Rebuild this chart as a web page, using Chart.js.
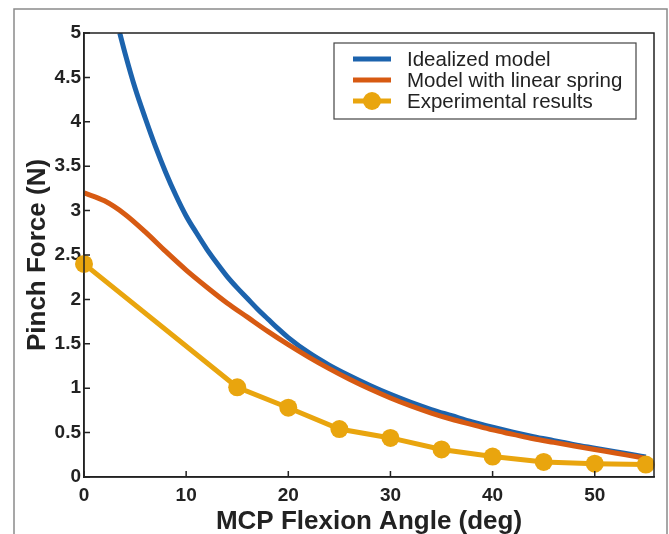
<!DOCTYPE html>
<html lang="en">
<head>
  <meta charset="UTF-8" />
  <title>Pinch Force vs MCP Flexion Angle</title>
  <script src="https://cdn.jsdelivr.net/npm/chart.js"></script>
  <style>
    html, body { margin: 0; padding: 0; background: #fff; }
    #wrap { position: relative; width: 669px; height: 534px; overflow: hidden; }
  </style>
</head>
<body>
<div id="wrap">
  <canvas id="forceChart" width="669" height="534"></canvas>
</div>

<script>
  // values
  const idealAngles = [3.5, 4, 5, 6, 7, 8, 9, 10, 11, 12, 13, 14, 15, 16, 17, 18, 19, 20, 22, 24, 26, 28, 30, 32, 34, 36, 38, 40, 42, 44, 46, 48, 50, 52, 54, 55];
  const idealForce  = [5.0, 4.78, 4.38, 4.04, 3.72, 3.43, 3.17, 2.94, 2.75, 2.57, 2.41, 2.26, 2.13, 2.01, 1.89, 1.78, 1.67, 1.57, 1.4, 1.26, 1.14, 1.03, 0.93, 0.84, 0.76, 0.69, 0.62, 0.56, 0.505, 0.455, 0.41, 0.365, 0.325, 0.285, 0.245, 0.225];

  const springAngles = [0, 2, 4, 6, 8, 10, 12, 14, 16, 18, 20, 22, 24, 26, 28, 30, 32, 34, 36, 38, 40, 42, 44, 46, 48, 50, 52, 54, 55];
  const springForce  = [3.2, 3.11, 2.96, 2.76, 2.54, 2.33, 2.14, 1.96, 1.8, 1.64, 1.49, 1.35, 1.22, 1.1, 0.99, 0.89, 0.8, 0.72, 0.65, 0.59, 0.53, 0.48, 0.43, 0.39, 0.35, 0.31, 0.27, 0.23, 0.21];

  const expAngles = [0, 15, 20, 25, 30, 35, 40, 45, 50, 55];
  const expForce  = [2.4, 1.01, 0.78, 0.54, 0.44, 0.31, 0.23, 0.17, 0.15, 0.14];

  const seriesNames = ["Idealized model", "Model with linear spring", "Experimental results"];
  const xTicks = [0, 10, 20, 30, 40, 50];
  const yTicks = [0, 0.5, 1, 1.5, 2, 2.5, 3, 3.5, 4, 4.5, 5];
  const yTickLabels = ["0", "0.5", "1", "1.5", "2", "2.5", "3", "3.5", "4", "4.5", "5"];

  const BLUE = "#1c63ad";
  const ORANGE = "#d75a12";
  const GOLD = "#e9a50e";
  const INK = "#222222";

  const toPoints = (xs, ys) => xs.map((x, i) => ({ x: x, y: ys[i] }));

  // axes box, inward ticks, legend and figure frame
  const decorPlugin = {
    id: "decor",
    afterDraw(chart) {
      const ctx = chart.ctx;
      const a = chart.chartArea;
      const xs = chart.scales.x, ys = chart.scales.y;
      ctx.save();

      ctx.strokeStyle = INK;
      ctx.lineWidth = 1.5;
      ctx.strokeRect(a.left, a.top, a.right - a.left, a.bottom - a.top);

      ctx.beginPath();
      xTicks.forEach(v => {
        const px = xs.getPixelForValue(v);
        ctx.moveTo(px, a.bottom);
        ctx.lineTo(px, a.bottom - 6);
      });
      yTicks.forEach(v => {
        const py = ys.getPixelForValue(v);
        ctx.moveTo(a.left, py);
        ctx.lineTo(a.left + 6, py);
      });
      ctx.stroke();

      // legend
      const bx = 334, by = 43, bw = 302, bh = 76;
      ctx.fillStyle = "#fff";
      ctx.fillRect(bx, by, bw, bh);
      ctx.strokeStyle = "#444";
      ctx.lineWidth = 1.2;
      ctx.strokeRect(bx, by, bw, bh);
      const colors = [BLUE, ORANGE, GOLD];
      ctx.font = "20.5px 'Liberation Sans', Arial, sans-serif";
      ctx.textBaseline = "middle";
      seriesNames.forEach((name, i) => {
        const ry = 59 + i * 21;
        ctx.strokeStyle = colors[i];
        ctx.lineWidth = 5;
        ctx.beginPath();
        ctx.moveTo(353, ry);
        ctx.lineTo(391, ry);
        ctx.stroke();
        if (i === 2) {
          ctx.fillStyle = GOLD;
          ctx.beginPath();
          ctx.arc(372, ry, 9, 0, Math.PI * 2);
          ctx.fill();
        }
        ctx.fillStyle = INK;
        ctx.fillText(name, 407, ry + 1);
      });

      // outer figure frame
      ctx.strokeStyle = "#8a8a8a";
      ctx.lineWidth = 1.5;
      ctx.strokeRect(14, 9, 653, 560);
      ctx.restore();
    }
  };

  new Chart(document.getElementById("forceChart"), {
    type: "line",
    data: {
      datasets: [
        {
          label: seriesNames[0],
          data: toPoints(idealAngles, idealForce),
          borderColor: BLUE,
          borderWidth: 5,
          pointRadius: 0,
          cubicInterpolationMode: "monotone",
          order: 3
        },
        {
          label: seriesNames[1],
          data: toPoints(springAngles, springForce),
          borderColor: ORANGE,
          borderWidth: 5,
          pointRadius: 0,
          cubicInterpolationMode: "monotone",
          order: 2
        },
        {
          label: seriesNames[2],
          data: toPoints(expAngles, expForce),
          borderColor: GOLD,
          backgroundColor: GOLD,
          borderWidth: 5,
          pointRadius: 9,
          pointBorderWidth: 0,
          pointBackgroundColor: GOLD,
          tension: 0,
          clip: false,
          order: 1
        }
      ]
    },
    options: {
      responsive: false,
      animation: false,
      layout: { padding: { top: 33, right: 15, left: 0, bottom: 0 } },
      plugins: {
        legend: { display: false },
        tooltip: { enabled: false }
      },
      scales: {
        x: {
          type: "linear",
          min: 0,
          max: 55.8,
          afterBuildTicks: (s) => { s.ticks = xTicks.map(v => ({ value: v })); },
          afterFit: (s) => { s.height = 57; },
          grid: { display: false, drawTicks: false },
          border: { display: true, color: INK, width: 1.5 },
          ticks: {
            padding: 7,
            color: INK,
            font: { family: "'Liberation Sans', Arial, sans-serif", size: 19, weight: "bold" },
            maxRotation: 0
          },
          title: {
            display: true,
            text: "MCP Flexion Angle (deg)",
            color: INK,
            padding: { top: 0, bottom: -1 },
            font: { family: "'Liberation Sans', Arial, sans-serif", size: 26, weight: "bold", lineHeight: 1 }
          }
        },
        y: {
          type: "linear",
          min: 0,
          max: 5,
          afterBuildTicks: (s) => { s.ticks = yTicks.map(v => ({ value: v })); },
          afterFit: (s) => { s.width = 84; },
          grid: { display: false, drawTicks: false },
          border: { display: true, color: INK, width: 1.5 },
          ticks: {
            padding: 3,
            color: INK,
            font: { family: "'Liberation Sans', Arial, sans-serif", size: 19, weight: "bold" },
            callback: (v) => yTickLabels[yTicks.indexOf(v)]
          },
          title: {
            display: true,
            text: "Pinch Force (N)",
            color: INK,
            padding: { top: 25, bottom: 0 },
            font: { family: "'Liberation Sans', Arial, sans-serif", size: 26, weight: "bold", lineHeight: 1 }
          }
        }
      }
    },
    plugins: [decorPlugin]
  });
</script>
</body>
</html>
